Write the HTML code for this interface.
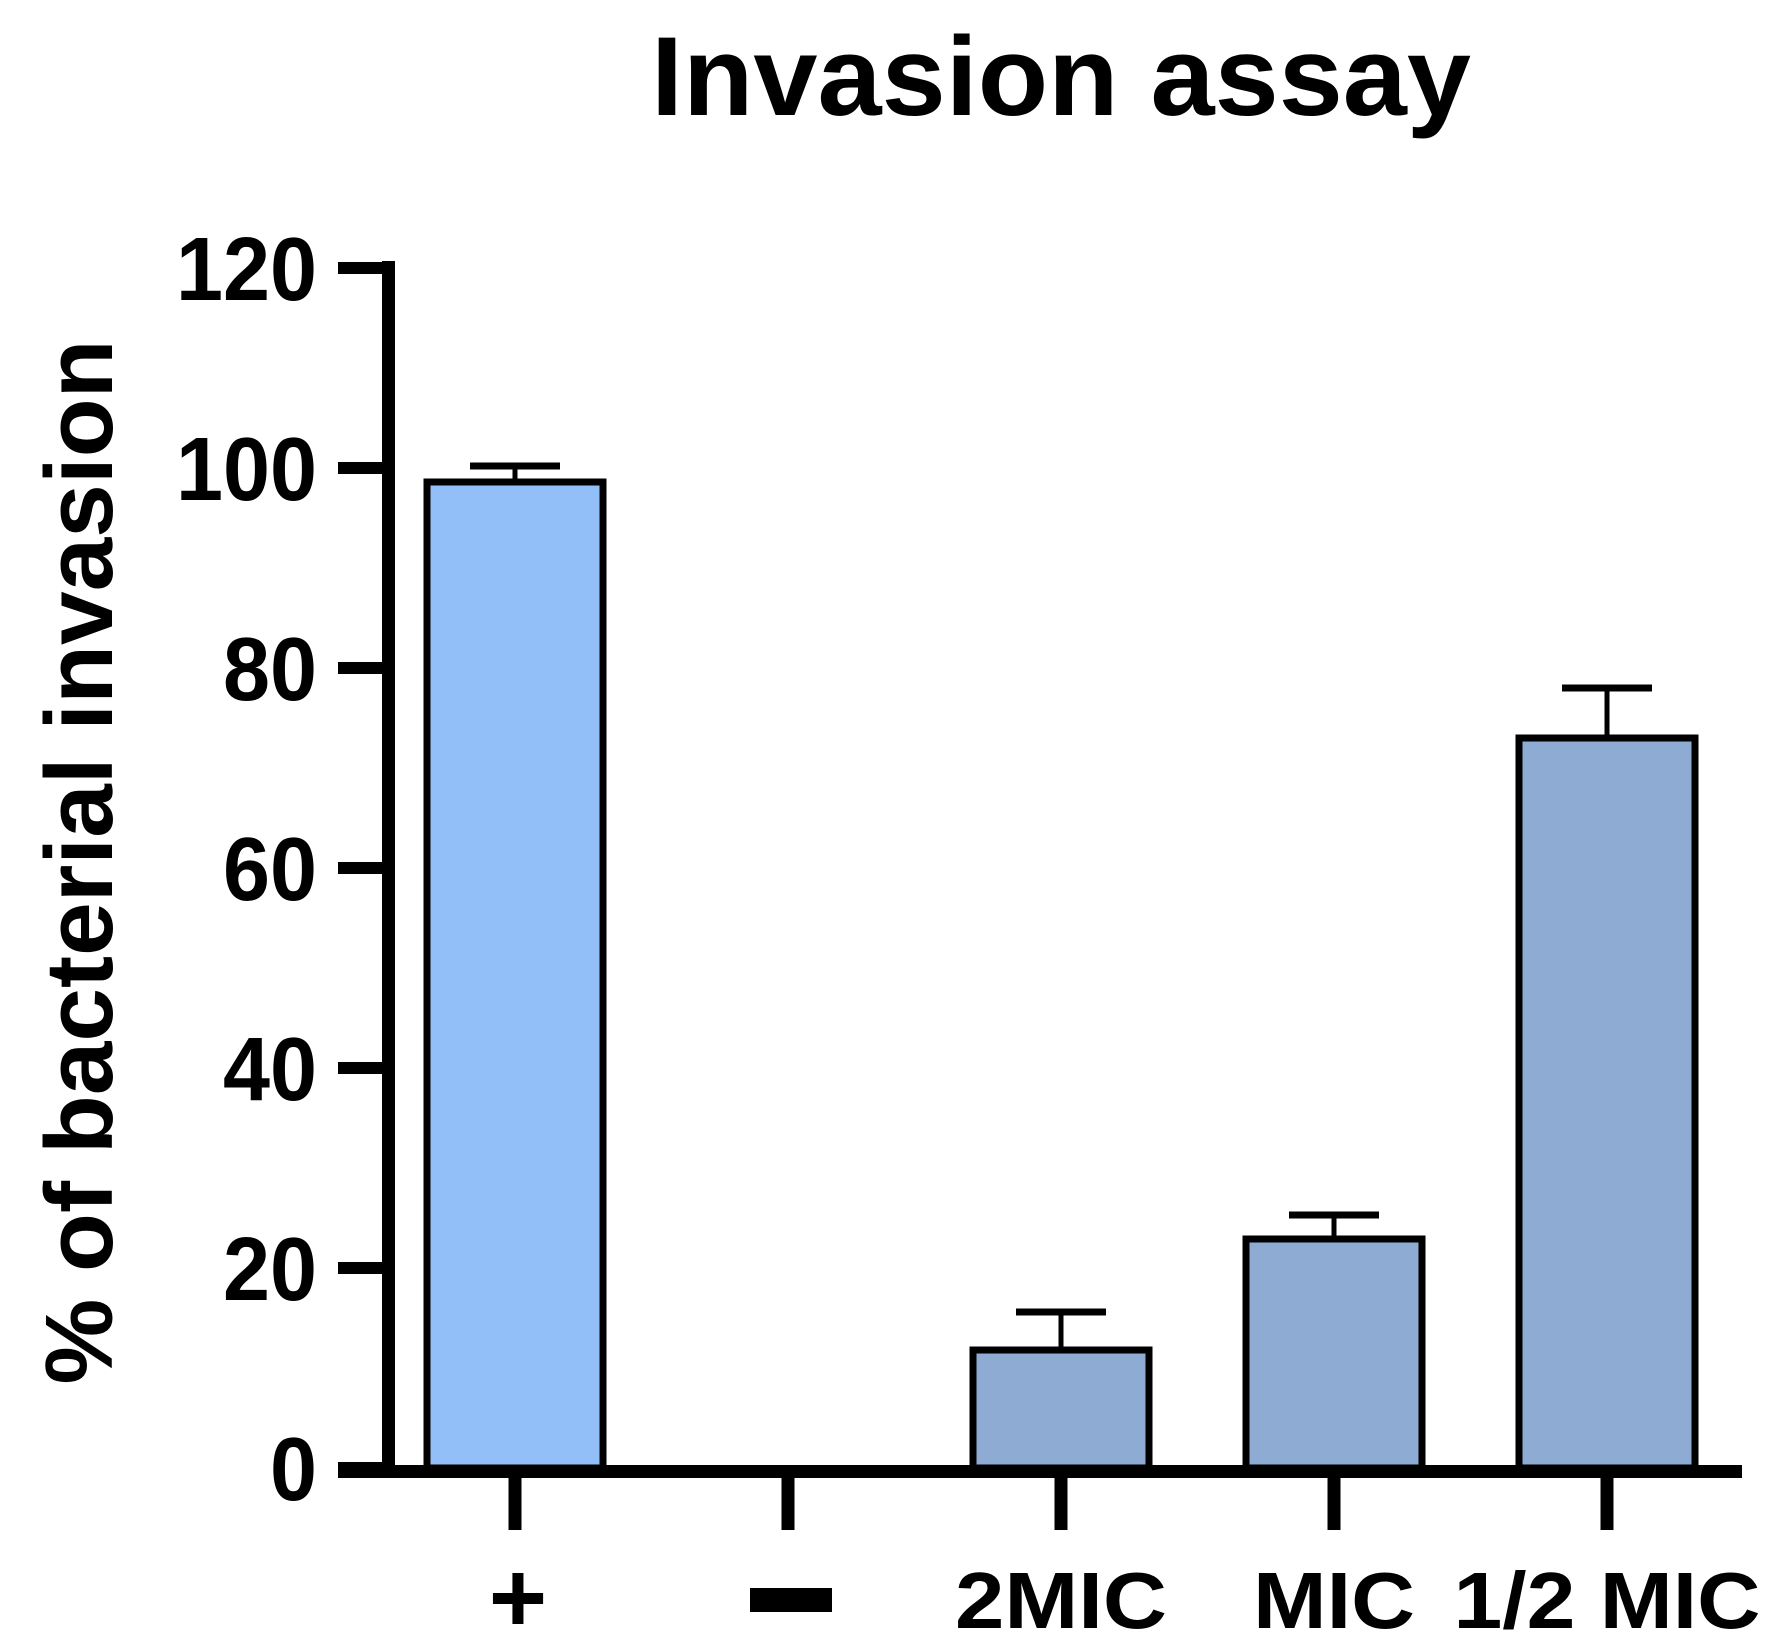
<!DOCTYPE html>
<html><head><meta charset="utf-8"><style>html,body{margin:0;padding:0;background:#fff}svg{display:block}</style></head>
<body>
<svg id="chart" width="1784" height="1640" viewBox="0 0 1784 1640" xmlns="http://www.w3.org/2000/svg" font-family="'Liberation Sans', Arial, sans-serif" font-weight="bold">
<text x="1061" y="115" font-size="112" text-anchor="middle" textLength="820" lengthAdjust="spacingAndGlyphs">Invasion assay</text>
<text transform="translate(112,862) rotate(-90)" font-size="96" text-anchor="middle" textLength="1045" lengthAdjust="spacingAndGlyphs">% of bacterial invasion</text>
<g id="plot"></g>
</svg>
<script>
const categories = ["+", "−", "2MIC", "MIC", "1/2 MIC"];
const values = [98.6, 0, 11.8, 22.9, 73.0];
const errors = [1.6, 0, 3.8, 2.4, 5.0];
const colors = ["#93bff8", "#8dabd3", "#8dabd3", "#8dabd3", "#8dabd3"];
const yTicks = [0, 20, 40, 60, 80, 100, 120];
const labelWidths = [0, 0, 212, 162, 307];

const NS = "http://www.w3.org/2000/svg";
const g = document.getElementById("plot");
const y0 = 1468, pxPerUnit = 10;
const yScale = v => y0 - v * pxPerUnit;
const xScale = i => 515 + i * 273;
const barW = 176;
function mk(tag, attrs) { const e = document.createElementNS(NS, tag); for (const k in attrs) e.setAttribute(k, attrs[k]); g.appendChild(e); return e; }

categories.forEach((c, i) => {
  const v = values[i];
  if (v > 0) {
    const r = mk("rect", {x: xScale(i) - barW / 2, y: yScale(v), width: barW, height: y0 - yScale(v), fill: colors[i], stroke: "#000", "stroke-width": 7});
    
    
    const e = errors[i];
    const l = mk("line", {x1: xScale(i), x2: xScale(i), y1: yScale(v), y2: yScale(v + e), stroke: "#000", "stroke-width": 5});
    
    
    const cap = mk("line", {x1: xScale(i) - 45, x2: xScale(i) + 45, y1: yScale(v + e), y2: yScale(v + e), stroke: "#000", "stroke-width": 7});
    
    
  }
});

const ya = mk("line", {x1: 388.5, x2: 388.5, y1: 261, y2: 1478, stroke: "#000", "stroke-width": 13});


const xa = mk("line", {x1: 338, x2: 1742, y1: 1471.5, y2: 1471.5, stroke: "#000", "stroke-width": 13});



yTicks.forEach(t => {
  const y = yScale(t);
  const tk = mk("line", {x1: 338, x2: 390, y1: y, y2: y, stroke: "#000", "stroke-width": 12});
  
  
  const s = String(t);
  const tx = mk("text", {x: 317, y: y + 32, "font-size": 90, "text-anchor": "end", textLength: s.length * 47, lengthAdjust: "spacingAndGlyphs"});
  tx.textContent = s;
  
  
});

categories.forEach((c, i) => {
  const x = xScale(i);
  const tk = mk("line", {x1: x, x2: x, y1: 1470, y2: 1530, stroke: "#000", "stroke-width": 13});
  
  
  if (c === "−") {
    const r = mk("rect", {x: x - 38, y: 1588, width: 82, height: 24, fill: "#000"});
    
    
    const t = mk("text", {x: x, y: 1628, "font-size": 80, "text-anchor": "middle", fill: "none"});
    t.textContent = c;
    
    
  } else if (c === "+") {
    const t = mk("text", {x: x + 3, y: 1632, "font-size": 100, "text-anchor": "middle"});
    t.textContent = c;
    
    
  } else {
    const attrs = {x: x, y: 1628, "font-size": 80, "text-anchor": "middle"};
    if (labelWidths[i]) { attrs.textLength = labelWidths[i]; attrs.lengthAdjust = "spacingAndGlyphs"; }
    const t = mk("text", attrs);
    t.textContent = c;
    
    
  }
});
</script>
</body></html>
